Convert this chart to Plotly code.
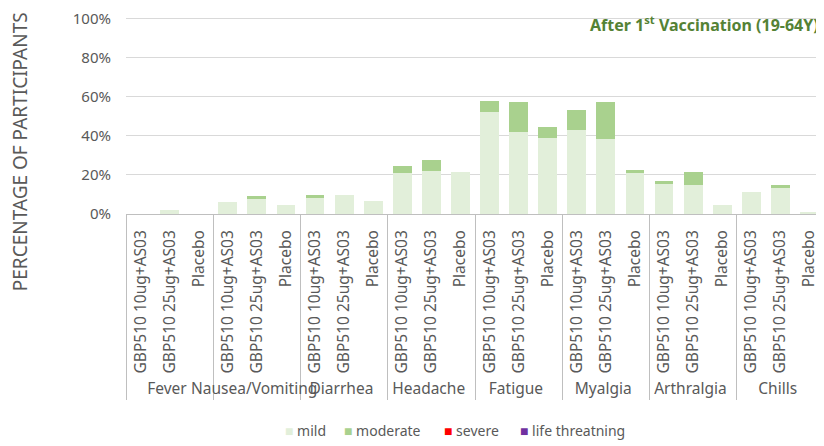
import plotly.graph_objects as go

symptoms = ["Fever", "Nausea/Vomiting", "Diarrhea", "Headache", "Fatigue", "Myalgia", "Arthralgia", "Chills"]
arms = ["GBP510 10ug+AS03", "GBP510 25ug+AS03", "Placebo"]

# percentage of participants per symptom x arm (order: 10ug, 25ug, Placebo)
mild = [0.0, 1.8, 0.0,
        6.0, 7.9, 4.4,
        8.4, 9.7, 6.5,
        20.9, 22.2, 21.4,
        52.3, 42.2, 39.0,
        43.1, 38.6, 20.9,
        15.4, 14.7, 4.6,
        11.1, 13.5, 1.2]
moderate = [0.0, 0.0, 0.0,
            0.0, 1.2, 0.0,
            1.3, 0.0, 0.0,
            3.5, 5.7, 0.0,
            5.8, 15.4, 5.4,
            10.1, 19.0, 1.8,
            1.4, 6.7, 0.0,
            0.0, 1.4, 0.0]
severe = [0.0] * 24
life_threatening = [0.0] * 24

series_names = ["mild", "moderate", "severe", "life threatning"]
series_colors = ["#E2EFDA", "#A9D18E", "#FF0000", "#7030A0"]
series_values = [mild, moderate, severe, life_threatening]

tick_vals = [0, 20, 40, 60, 80, 100]
tick_text = ["0%", "20%", "40%", "60%", "80%", "100%"]

x_outer = [s for s in symptoms for _ in arms]
x_inner = [a for _ in symptoms for a in arms]

fig = go.Figure()
for name, color, vals in zip(series_names, series_colors, series_values):
    fig.add_trace(go.Bar(x=[x_outer, x_inner], y=vals, name=name,
                         marker=dict(color=color, line=dict(width=0)),
                         showlegend=False))

font_family = "Noto Sans, Open Sans, sans-serif"
gray = "#595959"

W, H = 816, 438
L, R, T, B = 118, 0, 3, 232
pw, ph = W - L - R, H - T - B


def px(x):
    return (x - L) / pw


def py(y):
    return (H - B - y) / ph


annotations = [
    dict(text="<b>After 1<sup>st</sup> Vaccination (19-64Y)</b>",
         xref="paper", yref="paper", x=px(813), y=py(12),
         xanchor="right", yanchor="middle", showarrow=False,
         font=dict(size=16, color="#548235")),
    dict(text="PERCENTAGE OF PARTICIPANTS", textangle=-90,
         xref="paper", yref="paper", x=px(12), y=py(143),
         xanchor="center", yanchor="middle", showarrow=False,
         font=dict(size=19, color=gray)),
]

# custom legend
legend_x = [275, 334, 434, 510]
for name, color, lx in zip(series_names, series_colors, legend_x):
    annotations.append(dict(
        text=f"<span style='color:{color}'>■</span> {name}",
        xref="paper", yref="paper", x=px(lx), y=py(427),
        xanchor="left", yanchor="middle", showarrow=False,
        font=dict(size=14, color=gray)))

fig.update_layout(
    barmode="stack",
    bargap=0.35,
    width=W, height=H,
    margin=dict(l=L, r=R, t=T, b=B, pad=0),
    paper_bgcolor="white", plot_bgcolor="white",
    font=dict(family=font_family, color=gray),
    showlegend=False,
    xaxis=dict(type="multicategory", tickangle=-90,
               tickfont=dict(size=15.5, color=gray),
               showdividers=True, dividercolor="#BFBFBF", dividerwidth=1,
               showline=True, linecolor="#BFBFBF", linewidth=1,
               showgrid=False, ticks="", ticklabelstandoff=9),
    yaxis=dict(range=[0, 102], tickvals=tick_vals, ticktext=tick_text,
               showgrid=True, gridcolor="#D9D9D9", gridwidth=1,
               zeroline=False, showline=False, ticklabeloverflow="allow",
               tickfont=dict(size=15, color=gray), ticklabelstandoff=14),
    annotations=annotations,
)

fig.write_html("out.html")
